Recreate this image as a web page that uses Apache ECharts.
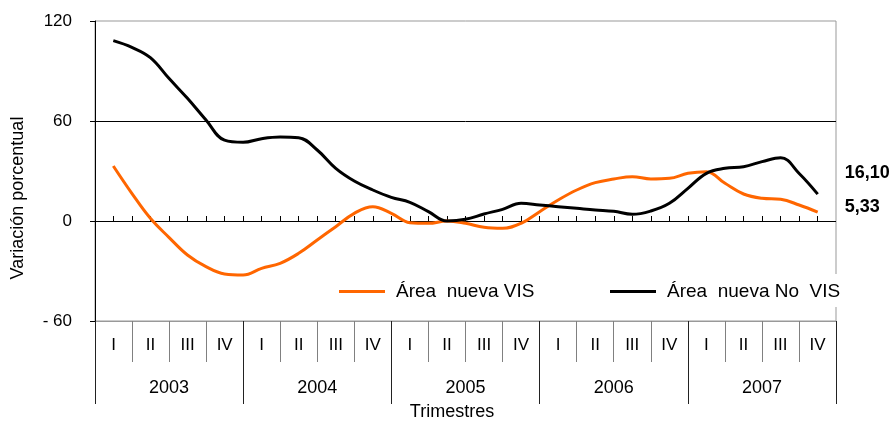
<!DOCTYPE html>
<html>
<head>
<meta charset="utf-8">
<script src="https://cdn.jsdelivr.net/npm/echarts@6/dist/echarts.min.js"></script>
<style>
  html, body { margin: 0; padding: 0; background: #fff; }
  #chart { width: 893px; height: 421px; }
</style>
</head>
<body>
<div id="chart"></div>
<script>
// quarter / year labels for the table under the plot
const quarters = ["I", "II", "III", "IV", "I", "II", "III", "IV", "I", "II", "III", "IV",
  "I", "II", "III", "IV", "I", "II", "III", "IV"];
const years = ["2003", "2004", "2005", "2006", "2007"];
const yTicks = [-60, 0, 60, 120];

// smoothed series, one point every half quarter (2003 I .. 2007 IV)
const areaVIS = [33, 16.6, 1.6, -9.8, -20.4, -27.4, -31.8, -32.4, -28.4, -25.4,
  -19.4, -11.4, -3.4, 4.6, 8.6, 4.6, -1, -1.4, 0, -1.4,
  -3.8, -4.4, -1.4, 5.6, 12.6, 18.6, 23, 25.2, 26.6, 25.2,
  25.6, 28.6, 29.6, 22.6, 16.2, 13.6, 13, 9.6, 5.33];
const areaNoVIS = [108.2, 104.2, 98, 85.6, 73.6, 60.6, 48.5, 47.2, 49.4, 50.4,
  50, 42.6, 31.6, 24, 18.6, 14.2, 11.2, 5.6, 0, 1,
  4.2, 7, 10.6, 9.6, 8.6, 7.6, 6.6, 5.8, 4, 6,
  10.6, 19.6, 28.6, 31.6, 32.6, 35.6, 38, 28.5, 16.10];
const periods = areaVIS.map((_, i) => String(i));

const nameVIS = "Área  nueva VIS";
const nameNoVIS = "Área  nueva No  VIS";
const FONT = "Liberation Sans, Arial, sans-serif";

const chart = echarts.init(document.getElementById("chart"));

const fmt = (v) => v.toFixed(2).replace(".", ",");

const option = {
  animation: false,
  textStyle: { fontFamily: FONT, color: "#000" },
  grid: [
    { left: 95, right: 57, top: 21, bottom: 100, show: true, borderColor: "#999", borderWidth: 1 },
    { left: 95, right: 57, top: 21, bottom: 100 },
    { left: 113.3, right: 75.3, top: 21, bottom: 100 },
  ],
  xAxis: [
    {
      gridIndex: 0,
      type: "category",
      data: quarters,
      boundaryGap: true,
      position: "bottom",
      axisLine: { show: true, onZero: false, lineStyle: { color: "#999" } },
      axisTick: { show: true, interval: 0, length: 41, lineStyle: { color: "#808080" } },
      axisLabel: { interval: 0, margin: 16, fontSize: 17, color: "#000", fontFamily: FONT },
      splitLine: { show: false },
    },
    {
      gridIndex: 1,
      type: "category",
      data: years,
      boundaryGap: true,
      position: "bottom",
      axisLine: { show: true, onZero: false, lineStyle: { color: "#999" } },
      axisTick: { show: true, interval: 0, length: 83, lineStyle: { color: "#222" } },
      axisLabel: { interval: 0, margin: 58, fontSize: 18, color: "#000", fontFamily: FONT },
      splitLine: { show: false },
    },
    {
      gridIndex: 2,
      type: "category",
      data: periods,
      boundaryGap: false,
      axisLine: { onZero: true, lineStyle: { color: "#000", width: 1 } },
      axisTick: { inside: true, interval: 0, length: 5, lineStyle: { color: "#000" } },
      axisLabel: { show: false },
    },
  ],
  yAxis: [
    {
      gridIndex: 0,
      type: "value",
      min: yTicks[0],
      max: yTicks[yTicks.length - 1],
      interval: 60,
      axisLine: { show: true, lineStyle: { color: "#000", width: 1 } },
      axisTick: { show: true, length: 5, lineStyle: { color: "#000" } },
      axisLabel: {
        margin: 23,
        fontSize: 17,
        color: "#000",
        fontFamily: FONT,
        formatter: (v) => (v < 0 ? "- " + Math.abs(v) : String(v)),
      },
      splitLine: {
        show: true,
        showMinLine: false,
        showMaxLine: false,
        lineStyle: { color: "#000", width: 1 },
      },
    },
    { gridIndex: 1, type: "value", min: -60, max: 120, show: false },
    { gridIndex: 2, type: "value", min: -60, max: 120, show: false, splitLine: { show: false } },
  ],
  legend: [
    {
      data: [nameVIS],
      left: 331,
      top: 274,
      padding: [8, 8, 6, 8],
      backgroundColor: "#fff",
      icon: "rect",
      itemWidth: 46,
      itemHeight: 3,
      textStyle: { fontSize: 19, color: "#000", fontFamily: FONT, padding: [0, 0, 0, 6] },
    },
    {
      data: [nameNoVIS],
      left: 602,
      top: 274,
      padding: [8, 12, 6, 8],
      backgroundColor: "#fff",
      icon: "rect",
      itemWidth: 46,
      itemHeight: 3,
      textStyle: { fontSize: 19, color: "#000", fontFamily: FONT, padding: [0, 0, 0, 6] },
    },
  ],
  graphic: [
    {
      type: "text",
      x: 452,
      y: 403,
      style: { text: "Trimestres", font: "18px " + FONT, fill: "#000", textAlign: "center" },
    },
    {
      type: "text",
      x: 18,
      y: 198,
      rotation: Math.PI / 2,
      style: {
        text: "Variación porcentual",
        font: "18px " + FONT,
        fill: "#000",
        textAlign: "center",
        textVerticalAlign: "middle",
      },
    },
  ],
  series: [
    {
      name: nameVIS,
      type: "line",
      xAxisIndex: 2,
      yAxisIndex: 2,
      data: areaVIS,
      smooth: 0.4,
      symbol: "none",
      lineStyle: { color: "#FF6600", width: 3 },
      itemStyle: { color: "#FF6600" },
      endLabel: {
        show: true,
        formatter: (p) => fmt(p.value),
        offset: [19, -5],
        fontSize: 18,
        fontWeight: "bold",
        color: "#000",
        fontFamily: FONT,
      },
      z: 3,
    },
    {
      name: nameNoVIS,
      type: "line",
      xAxisIndex: 2,
      yAxisIndex: 2,
      data: areaNoVIS,
      smooth: 0.4,
      symbol: "none",
      lineStyle: { color: "#000", width: 3 },
      itemStyle: { color: "#000" },
      endLabel: {
        show: true,
        formatter: (p) => fmt(p.value),
        offset: [19, -21],
        fontSize: 18,
        fontWeight: "bold",
        color: "#000",
        fontFamily: FONT,
      },
      z: 4,
    },
  ],
};

chart.setOption(option);
</script>
</body>
</html>
